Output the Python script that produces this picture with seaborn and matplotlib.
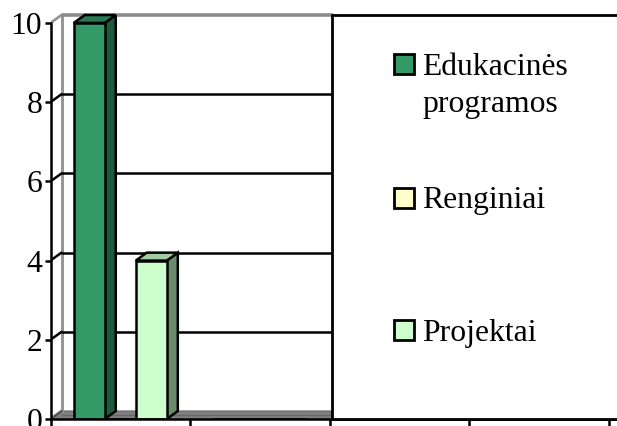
import pandas as pd
import seaborn as sns
import matplotlib.pyplot as plt
from matplotlib.patches import Polygon, Rectangle

# values
categories = ["1", "2", "3", "4"]
series_names = ["Edukacinės\nprogramos", "Renginiai", "Projektai"]
edukacines = [10, 0, 0, 0]
renginiai = [0, 0, 0, 0]
projektai = [4, 0, 0, 0]
y_ticks = [0, 2, 4, 6, 8, 10]

front_colors = ["#339966", "#FFFFCC", "#CCFFCC"]
side_colors = ["#1F5A3D", "#8F8F70", "#6B8C6B"]
top_colors = ["#287A50", "#CCCCA3", "#A3CCA3"]

W, H = 617, 426
DX, DY = 0.0789, 0.2  # depth of the fake 3d, data units
WALL_RIGHT = 1.514
X_RIGHT = 3.56
FONT = 22.8

sns.set_style("white")
plt.rcParams["font.family"] = ["Liberation Serif", "DejaVu Serif"]
plt.rcParams["font.size"] = FONT

df = pd.DataFrame({"cat": categories, series_names[0]: edukacines,
                   series_names[1]: renginiai, series_names[2]: projektai})
df = df.melt(id_vars="cat", var_name="series", value_name="value")

fig = plt.figure(figsize=(W / 100, H / 100), dpi=100)
ax = fig.add_axes([50.5 / W, 7 / H, 566.5 / W, 404 / H])

sns.barplot(data=df, x="cat", y="value", hue="series", hue_order=series_names,
            palette=front_colors, width=0.667, gap=0, edgecolor="black",
            linewidth=1.8, saturation=1, legend=False, ax=ax, zorder=5)

ax.set_xlim(-0.5, X_RIGHT)
ax.set_ylim(0, 10.2)
ax.set_xlabel("")
ax.set_ylabel("")

# floor and back wall
ax.add_patch(Polygon([(-0.5, 0), (-0.5 + DX, DY), (WALL_RIGHT, DY), (WALL_RIGHT, 0)],
                     facecolor="#808080", edgecolor="#6E6E6E", lw=1, zorder=2))
ax.plot([-0.5 + DX, WALL_RIGHT], [DY / 2, DY / 2], color="#666666", lw=1, zorder=2.5)
ax.plot([-0.5 + DX, -0.5 + DX], [DY, 10 + DY], color="#969696", lw=2.2, zorder=2)
ax.plot([-0.5, -0.5 + DX], [0, DY], color="#555555", lw=1.8, zorder=3)
ax.plot([-0.5, -0.5 + DX], [10, 10 + DY], color="#969696", lw=2, zorder=3)
ax.plot([-0.5 + DX, WALL_RIGHT], [10 + DY, 10 + DY], color="#8C8C8C", lw=2.6,
        clip_on=False, zorder=3)
for v in y_ticks[1:-1]:
    ax.plot([-0.5, -0.5 + DX], [v, v + DY], color="black", lw=1.8, zorder=3)
    ax.plot([-0.5 + DX, WALL_RIGHT], [v + DY, v + DY], color="black", lw=1.8, zorder=3)

# sides and tops of the bars
n = len(categories)
for i, bar in enumerate(ax.patches[:n * len(series_names)]):
    h = bar.get_height()
    if h <= 0:
        continue
    s = i // n
    x0 = bar.get_x()
    x1 = x0 + bar.get_width()
    ax.add_patch(Polygon([(x1, 0), (x1 + DX, DY), (x1 + DX, h + DY), (x1, h)],
                         facecolor=side_colors[s], edgecolor="black", lw=1.8, zorder=4))
    ax.add_patch(Polygon([(x0, h), (x0 + DX, h + DY), (x1 + DX, h + DY), (x1, h)],
                         facecolor=top_colors[s], edgecolor="black", lw=1.8, zorder=4,
                         clip_on=False))

# axes lines
for side in ["top", "right"]:
    ax.spines[side].set_visible(False)
for side in ["left", "bottom"]:
    ax.spines[side].set_color("black")
    ax.spines[side].set_linewidth(1.8)
    ax.spines[side].set_zorder(6)
ax.spines["left"].set_bounds(0, 10)
ax.set_yticks(y_ticks)
ax.set_xticks([-0.5, 0.5, 1.5, 2.5, 3.5])
ax.set_xticklabels([])
ax.tick_params(axis="y", left=True, length=4, width=1.8, color="black", pad=2,
               labelsize=FONT, labelcolor="black")
ax.tick_params(axis="x", bottom=True, length=7, width=1.8, color="black")

# legend panel on top of the plot
ax.add_patch(Rectangle((WALL_RIGHT, 0), X_RIGHT - WALL_RIGHT, 10 + DY, facecolor="white",
                       edgecolor="none", zorder=7))
ax.plot([WALL_RIGHT, WALL_RIGHT], [0, 10 + DY], color="black", lw=2, zorder=8,
        clip_on=False)
ax.plot([WALL_RIGHT, X_RIGHT], [10 + DY, 10 + DY], color="black", lw=2, zorder=8,
        clip_on=False)
ax.plot([WALL_RIGHT, X_RIGHT], [0, 0], color="black", lw=2, zorder=8, clip_on=False)

legend_tops = [54, 188, 320]
legend_lines = [[(75, "Edukacinės"), (112, "programos")], [(208, "Renginiai")], [(341, "Projektai")]]
for s, top in enumerate(legend_tops):
    fig.add_artist(Rectangle((393.5 / W, 1 - (top + 20) / H), 20 / W, 20 / H,
                             transform=fig.transFigure, facecolor=front_colors[s],
                             edgecolor="black", lw=2))
    for base, line in legend_lines[s]:
        fig.text(422 / W, 1 - base / H, line, va="baseline", ha="left",
                 fontsize=FONT, color="black")

fig.savefig("out.png", dpi=100)
